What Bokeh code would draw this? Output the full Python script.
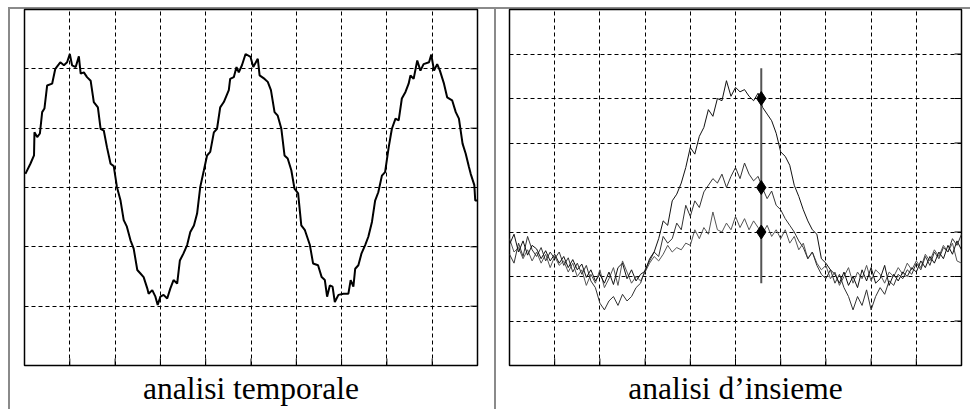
import math
from bokeh.plotting import figure
from bokeh.layouts import row
from bokeh.models import Range1d, SingleIntervalTicker, Title
from bokeh.embed import file_html
from bokeh.resources import INLINE

# ---------------- data: left panel ("analisi temporale"), grid units 0..10 x 0..6
temp_t = [0.02, 0.13, 0.21, 0.22, 0.28, 0.34, 0.39, 0.44, 0.50, 0.61, 0.68, 0.79, 0.87,
          0.94, 1.00, 1.05, 1.13, 1.20, 1.24, 1.31, 1.38, 1.46, 1.53, 1.62, 1.68, 1.75,
          1.82, 1.90, 1.97, 2.04, 2.12, 2.19, 2.26, 2.34, 2.41, 2.49, 2.56, 2.63, 2.71,
          2.74, 2.82, 2.89, 2.94, 3.00, 3.07, 3.15, 3.22, 3.29, 3.37, 3.43, 3.51, 3.59,
          3.66, 3.74, 3.81, 3.88, 3.96, 4.03, 4.10, 4.18, 4.25, 4.32, 4.40, 4.51, 4.54,
          4.62, 4.68, 4.73, 4.80, 4.88, 4.99, 5.05, 5.15, 5.19, 5.30, 5.37, 5.44, 5.52,
          5.59, 5.67, 5.74, 5.81, 5.89, 5.96, 6.04, 6.11, 6.19, 6.30, 6.37, 6.48, 6.56,
          6.63, 6.68, 6.74, 6.80, 6.85, 6.93, 7.04, 7.15, 7.20, 7.26, 7.30, 7.37, 7.44,
          7.52, 7.59, 7.67, 7.74, 7.81, 7.89, 7.96, 8.04, 8.11, 8.19, 8.26, 8.33, 8.41,
          8.48, 8.52, 8.59, 8.67, 8.74, 8.81, 8.93, 8.98, 9.04, 9.11, 9.17, 9.26, 9.33,
          9.44, 9.52, 9.59, 9.67, 9.74, 9.81, 9.85, 9.93, 9.95, 10.0]
temp_v = [3.23, 3.40, 3.54, 3.93, 3.85, 3.91, 4.27, 4.33, 4.72, 4.75, 5.00, 5.11, 5.06,
          5.11, 5.25, 5.06, 5.03, 5.21, 4.92, 4.94, 4.86, 4.80, 4.44, 4.35, 3.99, 3.96,
          3.68, 3.40, 3.36, 3.01, 2.78, 2.45, 2.34, 2.11, 1.97, 1.61, 1.55, 1.49, 1.30,
          1.21, 1.27, 1.16, 1.02, 1.16, 1.19, 1.13, 1.30, 1.44, 1.38, 1.77, 1.89, 2.03,
          2.25, 2.36, 2.56, 3.01, 3.29, 3.54, 3.60, 3.93, 3.99, 4.35, 4.44, 4.64, 4.83,
          4.86, 5.03, 4.94, 5.06, 5.25, 5.20, 5.03, 5.17, 4.89, 4.83, 4.78, 4.64, 4.27,
          4.21, 3.99, 3.54, 3.49, 3.29, 2.98, 2.90, 2.36, 2.28, 2.03, 1.72, 1.69, 1.49,
          1.44, 1.16, 1.35, 1.33, 1.07, 1.19, 1.21, 1.21, 1.44, 1.33, 1.63, 1.69, 1.89,
          2.03, 2.17, 2.42, 2.78, 2.92, 3.20, 3.26, 3.68, 3.99, 4.16, 4.13, 4.50, 4.61,
          4.75, 4.89, 4.83, 5.14, 4.97, 5.08, 5.11, 5.24, 4.97, 5.08, 4.97, 4.75, 4.52,
          4.47, 4.27, 4.16, 3.74, 3.57, 3.35, 3.23, 3.04, 2.78, 2.78]

# ---------------- data: right panel ("analisi d'insieme"), grid units 0..10 x 0..8
ens_t = [round(0.1 * i, 1) for i in range(101)]
ens_a = [2.72, 2.95, 2.55, 2.80, 2.48, 2.70, 2.62, 2.40, 2.58, 2.35,
         2.50, 2.30, 2.45, 2.20, 2.38, 2.15, 2.28, 1.98, 2.15, 1.90,
         2.05, 1.85, 2.10, 1.82, 2.20, 2.30, 1.95, 2.15, 1.90, 2.05,
         2.12, 2.40, 2.55, 2.85, 3.25, 3.15, 3.70, 3.85, 4.10, 4.45,
         4.90, 4.75, 5.15, 5.35, 5.75, 5.60, 6.00, 5.95, 6.40, 6.05,
         6.25, 6.15, 6.20, 6.05, 5.95, 6.12, 5.80, 5.65, 5.50, 5.22,
         4.80, 4.70, 4.50, 4.05, 3.80, 3.50, 3.25, 3.05, 2.95, 2.40,
         2.30, 2.15, 2.05, 1.85, 2.10, 1.80, 2.00, 1.75, 2.15, 1.90,
         2.20, 1.85, 1.95, 2.25, 1.80, 2.05, 1.90, 2.10, 2.00, 2.20,
         2.10, 2.35, 2.20, 2.45, 2.30, 2.55, 2.40, 2.70, 2.50, 2.80,
         2.60]
ens_b = [2.50, 2.30, 2.75, 2.45, 2.90, 2.60, 2.45, 2.65, 2.35, 2.55,
         2.40, 2.55, 2.25, 2.42, 2.10, 2.30, 2.05, 2.25, 1.90, 1.75,
         1.40, 1.25, 1.45, 1.55, 1.35, 1.60, 1.45, 1.55, 1.75, 1.85,
         2.15, 2.35, 2.55, 2.45, 2.90, 2.75, 2.85, 3.20, 3.05, 3.60,
         3.35, 3.70, 3.55, 3.90, 4.05, 4.20, 4.10, 4.30, 4.00, 4.25,
         4.45, 4.20, 4.55, 4.30, 4.15, 4.25, 3.98, 3.75, 3.92, 3.60,
         3.50, 3.30, 3.15, 3.00, 2.80, 2.65, 2.40, 2.55, 2.25, 2.05,
         1.95, 2.15, 1.85, 2.05, 1.75, 1.55, 1.25, 1.55, 1.35, 1.70,
         1.25, 1.55, 1.75, 1.60, 1.90, 1.80, 2.05, 1.95, 2.15, 2.05,
         2.30, 2.15, 2.45, 2.25, 2.55, 2.40, 2.65, 2.55, 2.85, 2.70,
         2.95]
ens_c = [2.85, 2.55, 2.65, 2.40, 2.60, 2.35, 2.55, 2.30, 2.50, 2.20,
         2.45, 2.25, 2.35, 2.10, 2.30, 2.00, 2.15, 1.80, 2.05, 1.85,
         2.15, 1.75, 1.95, 2.20, 1.80, 2.35, 2.10, 1.85, 2.00, 1.90,
         2.10, 2.30, 2.45, 2.35, 2.50, 2.70, 2.55, 2.65, 2.60, 2.75,
         2.70, 3.05, 2.85, 3.10, 2.95, 3.45, 3.05, 3.00, 3.20, 3.05,
         3.35, 3.10, 3.30, 3.05, 3.25, 3.10, 2.97, 3.15, 2.90, 3.05,
         2.85, 3.05, 2.75, 2.90, 2.60, 2.75, 2.40, 2.55, 2.30, 2.15,
         2.25, 1.95, 2.10, 1.80, 2.00, 2.20, 1.85, 2.10, 1.95, 2.25,
         1.90, 2.15, 2.05, 1.85, 2.10, 2.00, 2.20, 2.05, 2.30, 2.15,
         2.35, 2.20, 2.50, 2.35, 2.60, 2.45, 2.70, 2.55, 2.75, 2.35,
         2.30]
cursor_t = 5.57
cursor_span = [1.85, 6.68]
cursor_vals = [6.0, 4.0, 3.0]

x_ticks = [1, 2, 3, 4, 5, 6, 7, 8, 9]
y_ticks_left = [1, 2, 3, 4, 5]
y_ticks_right = [1, 2, 3, 4, 5, 6, 7]

labels = ["analisi temporale", "analisi d\u2019insieme"]

FONT = "Liberation Serif"


def panel(width, ymax, yticks, label, ml, mr):
    p = figure(width=width, height=402, x_range=Range1d(0, 10), y_range=Range1d(0, ymax),
               output_backend="svg", toolbar_location=None,
               min_border_left=ml, min_border_right=mr, min_border_top=2,
               min_border_bottom=44,
               background_fill_color="white", border_fill_color=None,
               outline_line_color="black", outline_line_width=1.5)
    p.xaxis.visible = False
    p.yaxis.visible = False
    p.xgrid[0].ticker = SingleIntervalTicker(interval=1)
    p.ygrid[0].ticker = SingleIntervalTicker(interval=1)
    for g in (p.xgrid[0], p.ygrid[0]):
        g.grid_line_color = "black"
        g.grid_line_dash = "4 3"
        g.grid_line_width = 1
    # inward tick marks on bottom and right edges (half of each dash is clipped by the frame)
    p.scatter(x_ticks, [0] * len(x_ticks), marker="dash", angle=math.pi / 2, size=14,
              line_color="black", line_width=1)
    p.scatter([10] * len(yticks), yticks, marker="dash", size=14,
              line_color="black", line_width=1)
    p.add_layout(Title(text=label, align="center", text_font=FONT, text_font_size="31.5px",
                       text_font_style="normal", text_color="black", standoff=7,
                       text_line_height=1.0, vertical_align="bottom"), "below")
    return p


p1 = panel(486, 6, y_ticks_left, labels[0], 16, 17)
p1.line(temp_t, temp_v, line_color="black", line_width=2)

p2 = panel(476, 8, y_ticks_right, labels[1], 15, 9)
p2.line(ens_t, ens_c, line_color="#555555", line_width=1)
p2.line(ens_t, ens_b, line_color="#333333", line_width=1)
p2.line(ens_t, ens_a, line_color="#111111", line_width=1)
p2.segment(x0=[cursor_t], y0=[cursor_span[0]], x1=[cursor_t], y1=[cursor_span[1]],
           line_color="#555555", line_width=2)
p2.scatter([cursor_t] * len(cursor_vals), cursor_vals, marker="diamond", size=14,
           fill_color="black", line_color="black")
p2.styles = {"box-shadow": "inset 2px 0 0 0 #8a8a8a"}

layout = row(p1, p2, styles={"margin-left": "8px", "margin-top": "7px",
                             "box-shadow": "inset 2px 2px 0 0 #8a8a8a"})

open("out.html", "w").write(file_html(layout, INLINE))
